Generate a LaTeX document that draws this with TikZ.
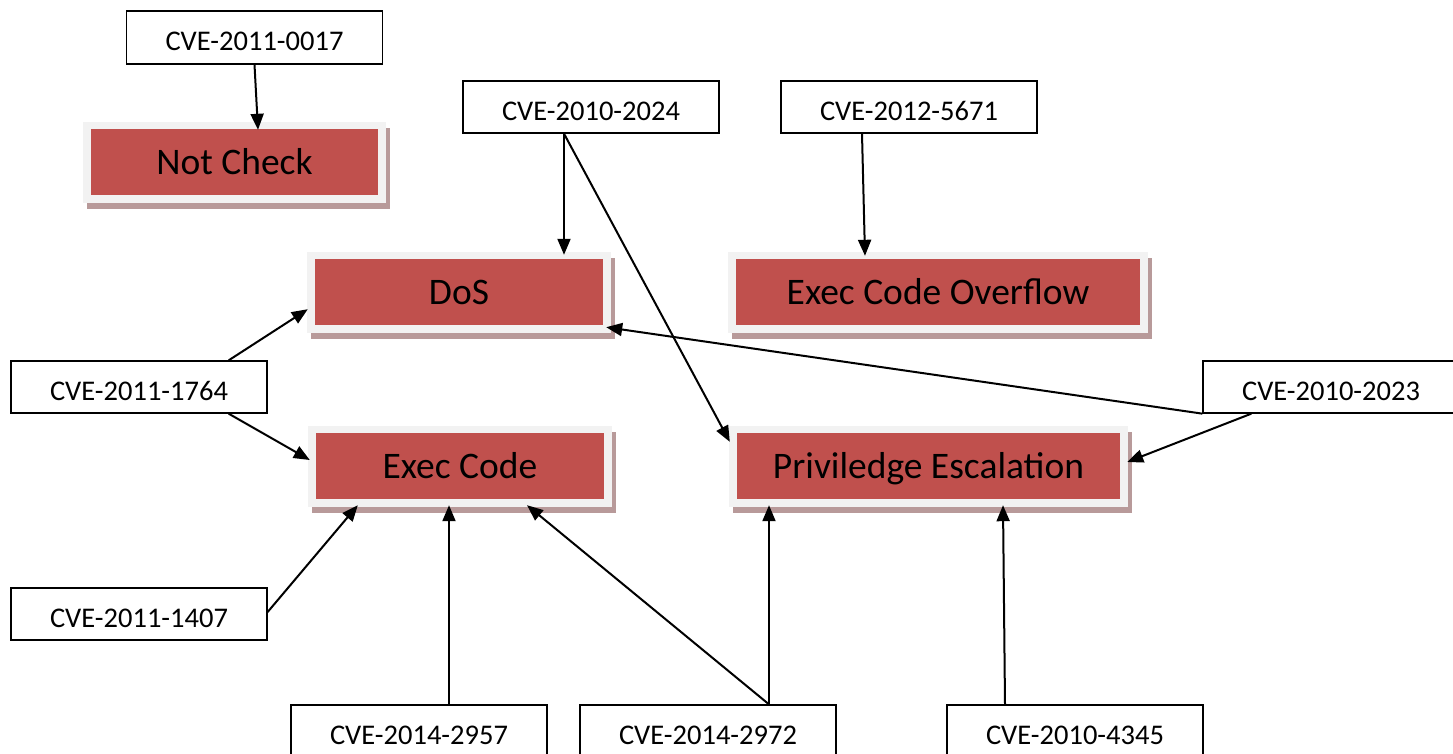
\documentclass[tikz,border=0pt]{standalone}
\usepackage{fontspec}
\setmainfont{Carlito}
\usetikzlibrary{arrows.meta,shadows}
\definecolor{boxred}{HTML}{C0504D}
\definecolor{framegray}{HTML}{F2F2F2}
\definecolor{shadowrose}{HTML}{B89A9A}
\tikzset{
  cvebox/.style={draw=black, line width=1.3pt, fill=white, minimum width=256pt,
    minimum height=52pt, inner sep=0pt, text height=30pt, text depth=4pt,
    font=\fontsize{28.5}{31}\selectfont},
  catbox/.style={fill=framegray, minimum height=81pt, inner sep=0pt,
    text height=30pt, text depth=7pt,
    font=\fontsize{37.5}{40}\selectfont,
    drop shadow={shadow xshift=3.5pt, shadow yshift=-6pt, fill=shadowrose, opacity=1},
    path picture={\fill[boxred]
      ([shift={(8pt,-7pt)}]path picture bounding box.north west) rectangle
      ([shift={(-8pt,8pt)}]path picture bounding box.south east);}},
  link/.style={line width=2pt, -{Triangle[length=16pt,width=13pt]}},
}
\begin{document}
\begin{tikzpicture}[x=1pt,y=-1pt]
\clip (0,0) rectangle (1453,753);
\fill[white] (0,0) rectangle (1453,753);

% category boxes
\node[catbox, minimum width=303pt] (notcheck) at (234.5,162.5) {Not Check};
\node[catbox, minimum width=304pt] (dos) at (459,292.5) {DoS};
\node[catbox, minimum width=420pt] (eco) at (938,292.5) {Exec Code Overflow};
\node[catbox, minimum width=304pt] (exec) at (460,466.5) {Exec Code};
\node[catbox, minimum width=399pt] (priv) at (928.5,466.5) {Priviledge Escalation};

% vulnerability boxes
\node[cvebox, minimum height=53pt] (c0017) at (254.5,37.5) {CVE-2011-0017};
\node[cvebox] (c2024) at (591,107) {CVE-2010-2024};
\node[cvebox] (c5671) at (909,107) {CVE-2012-5671};
\node[cvebox] (c1764) at (139,387) {CVE-2011-1764};
\node[cvebox] (c2023) at (1331,387) {CVE-2010-2023};
\node[cvebox] (c1407) at (139,614) {CVE-2011-1407};
\node[cvebox] (c2957) at (419,731) {CVE-2014-2957};
\node[cvebox] (c2972) at (708,731) {CVE-2014-2972};
\node[cvebox] (c4345) at (1075,731) {CVE-2010-4345};

% connectors
\draw[link] (c0017.south) -- ([xshift=23.5pt,yshift=-8pt]notcheck.north);
\draw[link] ([xshift=-27pt]c2024.south) -- ([xshift=105pt,yshift=-3pt]dos.north);
\draw[link] ([xshift=-27pt]c2024.south) -- ([xshift=1pt,yshift=-16pt]priv.north west);
\draw[link] ([xshift=-47pt]c5671.south) -- ([xshift=-73pt,yshift=-4pt]eco.north);
\draw[link] ([xshift=-39pt]c1764.north east) -- ([xshift=1pt,yshift=24pt]dos.south west);
\draw[link] ([xshift=-39pt]c1764.south east) -- ([xshift=2pt,yshift=6.5pt]exec.west);
\draw[link] (c2023.south west) -- ([xshift=-5pt,yshift=6pt]dos.south east);
\draw[link] ([xshift=49pt]c2023.south west) -- ([xshift=-1pt,yshift=4.5pt]priv.east);
\draw[link] ([yshift=2pt]c1407.east) -- ([xshift=50pt,yshift=2pt]exec.south west);
\draw[link] ([xshift=30pt]c2957.north) -- ([xshift=-11pt,yshift=2pt]exec.south);
\draw[link] ([xshift=61pt]c2972.north) -- ([xshift=67pt,yshift=2pt]exec.south);
\draw[link] ([xshift=61pt]c2972.north) -- ([xshift=-159.5pt,yshift=2pt]priv.south);
\draw[link] ([xshift=-70pt]c4345.north) -- ([xshift=74.5pt,yshift=2pt]priv.south);
\end{tikzpicture}
\end{document}
